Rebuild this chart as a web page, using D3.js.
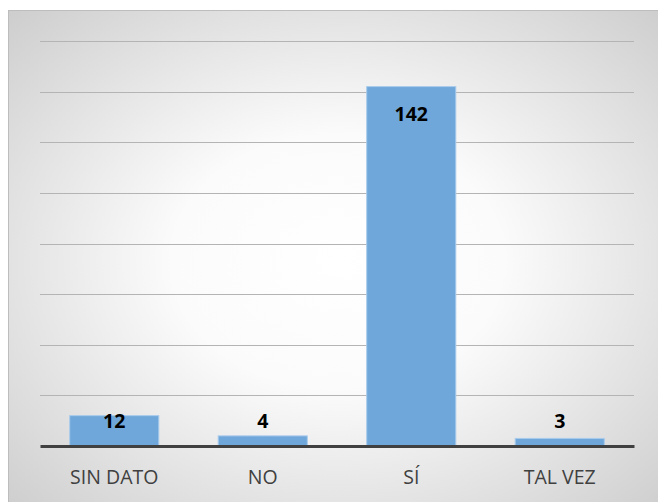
<!DOCTYPE html>
<html>
<head>
<meta charset="utf-8">
<script src="https://cdn.jsdelivr.net/npm/d3@7"></script>
<style>
  body { margin: 0; background: #fff; }
  svg { display: block; }
</style>
</head>
<body>
<div id="container"></div>
<script>
// Chart data
const categories = ["SIN DATO", "NO", "SÍ", "TAL VEZ"];
const values = [12, 4, 142, 3];
const gridTicks = [20, 40, 60, 80, 100, 120, 140, 160];

const W = 658, H = 502;
const margin = {top: 41, right: 24, bottom: 56, left: 40};
const width = W - margin.left - margin.right;
const height = H - margin.top - margin.bottom;

const svg = d3.select("#container").append("svg")
    .attr("width", W)
    .attr("height", H);

// Background radial gradient
const defs = svg.append("defs");
const grad = defs.append("radialGradient")
    .attr("id", "bg")
    .attr("cx", "50%").attr("cy", "50%").attr("r", "72%");
grad.append("stop").attr("offset", "0%").attr("stop-color", "#ffffff");
grad.append("stop").attr("offset", "35%").attr("stop-color", "#fbfbfb");
grad.append("stop").attr("offset", "100%").attr("stop-color", "#cccccc");

svg.append("rect")
    .attr("x", 8.5).attr("y", 10.5)
    .attr("width", W).attr("height", H)
    .attr("fill", "url(#bg)")
    .attr("stroke", "#bdbdbd")
    .attr("stroke-width", 1);

const g = svg.append("g")
    .attr("transform", `translate(${margin.left},${margin.top})`);

// Scales
const x = d3.scaleBand()
    .domain(categories)
    .range([0, width])
    .paddingInner(0.4)
    .paddingOuter(0.2);

const y = d3.scaleLinear()
    .domain([0, 160])
    .range([height, 0]);

// Gridlines
g.selectAll(".grid")
    .data(gridTicks)
    .enter().append("line")
    .attr("class", "grid")
    .attr("x1", 0)
    .attr("x2", width)
    .attr("y1", d => Math.round(y(d)) + 0.5)
    .attr("y2", d => Math.round(y(d)) + 0.5)
    .attr("stroke", "#b4b4b4")
    .attr("stroke-width", 1);

// Bars
g.selectAll(".bar")
    .data(values)
    .enter().append("rect")
    .attr("class", "bar")
    .attr("x", (d, i) => x(categories[i]))
    .attr("y", d => y(d))
    .attr("width", x.bandwidth())
    .attr("height", d => height - y(d))
    .attr("fill", "#6fa7da")
    .attr("stroke", "#a9cbec")
    .attr("stroke-width", 1);

// Baseline axis
const axis = g.append("g")
    .attr("transform", `translate(0,${height})`)
    .call(d3.axisBottom(x).tickSize(0).tickPadding(24));

axis.select(".domain")
    .attr("stroke", "#404040")
    .attr("stroke-width", 3);

axis.selectAll("text")
    .attr("fill", "#404040")
    .style("font-family", "'Open Sans', sans-serif")
    .style("font-size", "19.5px");

// Value labels
g.selectAll(".label")
    .data(values)
    .enter().append("text")
    .attr("class", "label")
    .attr("x", (d, i) => x(categories[i]) + x.bandwidth() / 2)
    .attr("y", d => Math.min(y(d) + 34, height - 18))
    .attr("text-anchor", "middle")
    .attr("fill", "#000")
    .style("font-family", "'Open Sans', sans-serif")
    .style("font-weight", "bold")
    .style("font-size", "19.5px")
    .text(d => d);
</script>
</body>
</html>
